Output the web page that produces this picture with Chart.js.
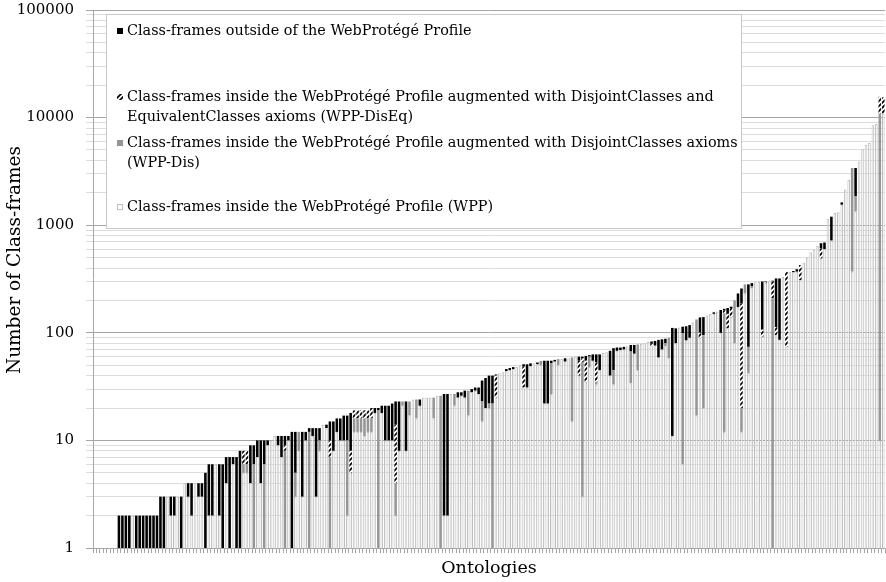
<!DOCTYPE html>
<html>
<head>
<meta charset="utf-8">
<script src="https://cdn.jsdelivr.net/npm/chart.js@4.4.0/dist/chart.umd.min.js"></script>
<style>
  html, body { margin: 0; padding: 0; background: #fff; }
  #wrap { width: 886px; height: 582px; }
</style>
</head>
<body>
<div id="wrap"><canvas id="chart"></canvas></div>
<script>
// class-frame counts per ontology, sorted by total
var wpp = [
  1,1,1,1,1,1,1,0,0,0,
  0,2,0,0,0,0,0,0,0,0,
  0,3,2,2,3,0,4,3,2,4,
  3,3,0,2,2,6,2,0,4,0,
  6,0,0,5,5,4,0,7,4,0,
  9,10,11,9,7,0,10,0,3,8,
  3,10,0,11,3,8,14,13,0,8,
  12,10,10,2,5,12,12,12,11,12,
  12,18,0,18,10,10,10,2,8,21,
  8,17,24,16,21,25,25,25,16,26,
  0,2,2,27,21,25,26,25,17,28,
  29,27,15,20,20,0,25,42,43,44,
  45,46,48,50,31,31,49,52,51,50,
  22,22,27,54,50,57,54,58,15,60,
  40,3,35,48,55,33,45,65,66,40,
  33,68,69,70,75,34,64,45,79,80,
  82,75,76,59,70,75,58,11,80,112,
  6,85,90,125,17,90,20,145,150,150,
  158,100,12,110,140,80,174,12,232,42,
  260,295,297,92,290,302,0,95,86,330,
  74,370,365,370,308,450,500,560,590,640,
  490,600,1150,720,1300,1320,1550,2150,2630,370,
  1340,3900,5090,5600,5800,8500,8700,10,10900
];
var wppDis = [
  0,0,0,0,0,0,0,0,0,0,
  0,0,0,0,0,0,0,0,0,0,
  0,0,0,0,0,0,0,0,0,0,
  0,0,0,0,0,0,0,0,0,0,
  0,0,0,1,1,0,6,0,0,6,
  0,0,0,0,0,8,0,0,2,4,
  0,0,12,0,0,2,0,0,7,0,
  0,0,0,8,0,4,4,4,5,4,
  4,0,19,0,0,0,0,2,0,2,
  0,6,0,8,0,0,0,0,9,0,
  26,0,0,0,6,0,0,0,12,0,
  0,0,8,0,2,22,0,0,0,0,
  0,0,0,0,0,0,0,0,0,3,
  0,0,25,0,7,0,0,0,44,0,
  0,50,0,12,0,2,0,0,0,0,
  12,0,0,0,0,33,0,33,0,0,
  0,0,0,0,0,5,32,0,0,0,
  93,0,0,0,116,0,75,0,0,0,
  0,0,140,0,0,120,0,8,50,32,
  10,0,0,0,0,0,210,0,0,0,
  0,0,0,0,0,0,0,0,0,0,
  0,0,0,0,0,0,0,0,0,3030,
  510,0,0,0,0,0,0,10890,0
];
var wppDisEq = [
  0,0,0,0,0,0,0,0,0,0,
  0,0,0,0,0,0,0,0,0,0,
  0,0,0,0,0,0,0,0,0,0,
  0,0,0,0,0,0,0,0,0,0,
  0,0,0,2,2,0,0,0,0,0,
  0,0,0,0,0,1,0,0,0,0,
  0,0,0,0,0,0,0,0,3,0,
  0,0,0,0,3,3,3,3,3,3,
  4,0,0,0,0,0,0,10,0,0,
  0,0,0,0,0,0,0,0,0,0,
  0,0,0,0,0,0,0,0,0,0,
  0,0,0,0,0,0,15,0,0,0,
  0,0,0,0,18,0,0,0,0,0,
  0,0,0,0,0,0,0,0,0,0,
  15,5,20,0,0,18,0,0,0,0,
  0,0,0,0,0,0,0,0,0,0,
  0,4,0,0,0,0,0,0,0,0,
  0,0,0,0,0,10,0,0,0,0,
  0,0,10,40,30,0,0,168,0,0,
  0,0,0,15,5,0,90,18,0,0,
  295,0,0,0,118,0,0,0,0,0,
  120,0,0,0,0,0,0,0,0,0,
  0,0,0,0,0,0,0,4700,4500
];
var outside = [
  0,0,0,0,0,0,0,2,2,2,
  2,0,2,2,2,2,2,2,2,3,
  3,0,1,1,0,3,0,1,2,0,
  1,1,5,4,4,0,4,6,3,7,
  1,7,8,0,0,5,3,3,6,4,
  1,0,0,2,4,2,1,12,7,0,
  9,2,1,2,10,3,0,1,5,7,
  4,6,7,7,10,0,0,0,0,0,
  0,2,1,3,11,11,12,9,15,0,
  15,0,0,0,3,0,0,0,0,0,
  0,25,25,0,0,3,2,4,0,2,
  2,4,13,18,18,18,1,0,0,2,
  2,2,0,0,2,20,3,0,2,1,
  33,33,3,2,0,0,4,0,0,0,
  5,2,6,2,8,10,18,0,0,28,
  27,5,4,4,0,10,13,0,0,0,
  0,4,8,27,17,8,0,100,30,0,
  15,30,28,0,0,39,45,0,0,5,
  0,63,5,20,5,0,58,70,0,208,
  20,0,0,193,5,0,5,207,234,0,
  0,0,10,20,0,0,0,0,0,0,
  70,90,0,480,0,0,80,0,0,0,
  1550,0,0,0,0,0,0,0,0
];

var ontologies = wpp.map(function (v, i) { return 'Ontology ' + (i + 1); });

var yTitle = 'Number of Class-frames';
var legendText = [
  ['Class-frames outside of the WebProtégé Profile'],
  ['Class-frames inside the WebProtégé Profile augmented with DisjointClasses and',
   'EquivalentClasses axioms (WPP-DisEq)'],
  ['Class-frames inside the WebProtégé Profile augmented with DisjointClasses axioms',
   '(WPP-Dis)'],
  ['Class-frames inside the WebProtégé Profile (WPP)']
];

// log axis: 1..9 x 10^k
var yTicks = [];
for (var e = 0; e < 5; e++) {
  for (var s = 1; s < 10; s++) yTicks.push(s * Math.pow(10, e));
}
yTicks.push(100000);

function isDecade(v) { return /^10*$/.test(String(v)); }

// hatch for WPP-DisEq
var hatch = (function () {
  var c = document.createElement('canvas');
  c.width = 5; c.height = 5;
  var g = c.getContext('2d');
  g.fillStyle = '#fff';
  g.fillRect(0, 0, 5, 5);
  g.strokeStyle = '#000';
  g.lineWidth = 1.8;
  g.beginPath();
  g.moveTo(-1, 6); g.lineTo(6, -1);
  g.moveTo(-1, 1); g.lineTo(1, -1);
  g.moveTo(4, 6); g.lineTo(6, 4);
  g.stroke();
  return g.createPattern(c, 'repeat');
})();

var SERIF = '"DejaVu Serif", "Liberation Serif", serif';
Chart.defaults.font.family = SERIF;
Chart.defaults.color = '#000';

// legend drawn in a framed box over the plot, plus the y title
var boxLegend = {
  id: 'boxLegend',
  afterDraw: function (chart) {
    var ctx = chart.ctx;
    var rows = [[31], [97, 117], [143, 163], [207]];
    var order = [3, 2, 1, 0];
    ctx.save();
    ctx.fillStyle = '#fff';
    ctx.fillRect(106, 14, 635, 214);
    ctx.strokeStyle = '#c8c8c8';
    ctx.lineWidth = 1;
    ctx.strokeRect(106.5, 14.5, 635, 214);
    ctx.font = '14.4px ' + SERIF;
    ctx.textBaseline = 'middle';
    for (var k = 0; k < 4; k++) {
      var ds = chart.data.datasets[order[k]];
      var y0 = rows[k][0];
      ctx.fillStyle = ds.backgroundColor;
      ctx.fillRect(117, y0 - 3, 6, 6);
      if (ds.borderWidth) {
        ctx.strokeStyle = ds.borderColor;
        ctx.strokeRect(117.5, y0 - 2.5, 5, 5);
      }
      ctx.fillStyle = '#000';
      for (var j = 0; j < legendText[k].length; j++) {
        ctx.fillText(legendText[k][j], 127, rows[k][j]);
      }
    }
    // y title sits a bit above the middle of the axis
    ctx.translate(15, 260);
    ctx.rotate(-Math.PI / 2);
    ctx.font = '18.5px ' + SERIF;
    ctx.textAlign = 'center';
    ctx.fillText(yTitle, 0, 0);
    ctx.restore();
  }
};

var barCommon = { barPercentage: 0.74, categoryPercentage: 1 };

new Chart(document.getElementById('chart'), {
  type: 'bar',
  data: {
    labels: ontologies,
    datasets: [
      Object.assign({ label: legendText[3].join(' '), data: wpp,
        backgroundColor: '#ffffff', borderColor: '#bdbdbd', borderWidth: 1 }, barCommon),
      Object.assign({ label: legendText[2].join(' '), data: wppDis,
        backgroundColor: '#969696', borderWidth: 0 }, barCommon),
      Object.assign({ label: legendText[1].join(' '), data: wppDisEq,
        backgroundColor: hatch, borderWidth: 0 }, barCommon),
      Object.assign({ label: legendText[0].join(' '), data: outside,
        backgroundColor: '#000000', borderWidth: 0 }, barCommon)
    ]
  },
  options: {
    responsive: true,
    maintainAspectRatio: false,
    animation: false,
    layout: { padding: { left: 0, right: 1, top: 10, bottom: 0 } },
    plugins: { legend: { display: false }, tooltip: { enabled: false } },
    scales: {
      x: {
        stacked: true,
        ticks: { display: false },
        grid: { drawOnChartArea: false, drawTicks: true, tickLength: 5, color: '#a6a6a6' },
        border: { color: '#a6a6a6' },
        title: { display: true, text: 'Ontologies', font: { size: 17.5 }, padding: { top: 0, bottom: 3 } },
        afterFit: function (scale) { scale.height = 34; scale.paddingLeft = 0; scale.paddingRight = 0; }
      },
      y: {
        type: 'logarithmic',
        stacked: true,
        min: 1,
        max: 100000,
        afterBuildTicks: function (scale) {
          scale.ticks = yTicks.map(function (v) { return { value: v, major: isDecade(v) }; });
        },
        afterFit: function (scale) {
          scale.width = 93;
          scale.paddingTop = 0;
          scale.paddingBottom = 0;
        },
        ticks: {
          autoSkip: false,
          padding: 12,
          font: { size: 15 },
          callback: function (v) { return isDecade(v) ? String(v) : ''; }
        },
        grid: {
          tickLength: 7,
          color: function (c) { return isDecade(c.tick.value) ? '#a6a6a6' : '#dcdcdc'; }
        },
        border: { color: '#a6a6a6' },
        title: { display: false }
      }
    }
  },
  plugins: [boxLegend]
});
</script>
</body>
</html>
